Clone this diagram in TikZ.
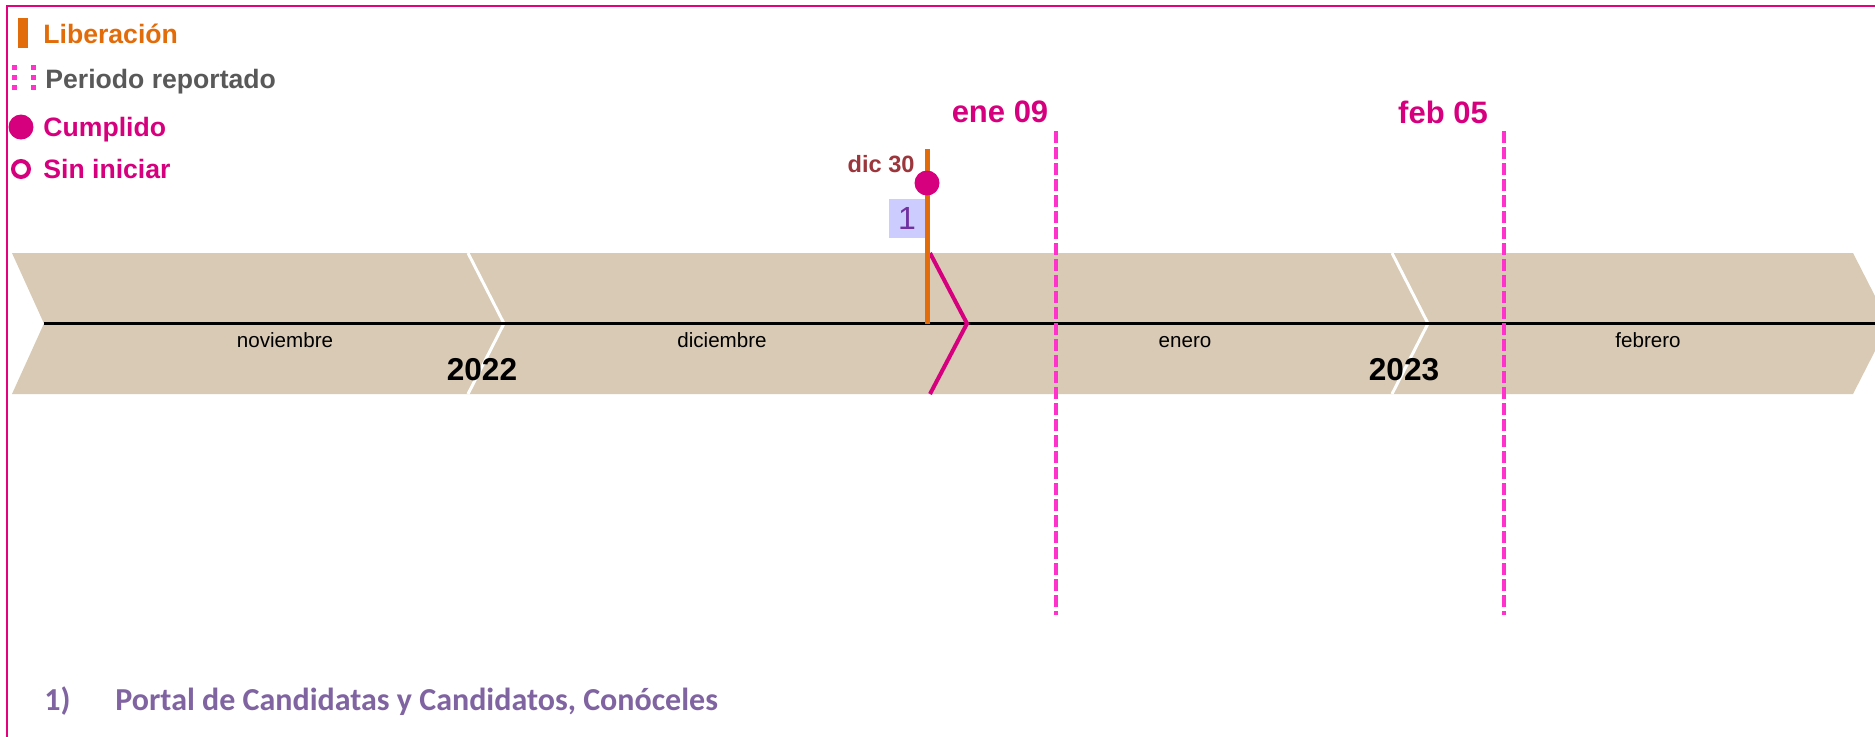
\documentclass[tikz,border=0pt]{standalone}
\usepackage{fontspec}
\setmainfont{Liberation Sans}
\newfontfamily\calibri{Carlito}
\definecolor{tanband}{RGB}{216,202,180}
\definecolor{magc}{RGB}{214,0,127}
\definecolor{pinkd}{RGB}{255,51,204}
\definecolor{orng}{RGB}{227,108,10}
\definecolor{greyt}{RGB}{89,89,89}
\definecolor{framec}{RGB}{229,0,126}
\definecolor{brownr}{RGB}{155,55,60}
\definecolor{boxblue}{RGB}{204,204,255}
\definecolor{purp}{RGB}{112,48,160}
\definecolor{lav}{RGB}{128,100,162}
\tikzset{
  legtext/.style={anchor=base west,inner sep=0pt,font=\fontsize{13.3}{16}\selectfont\bfseries},
  monthlbl/.style={anchor=base,inner sep=0pt,font=\fontsize{10.3}{12}\selectfont},
  yearlbl/.style={anchor=base,inner sep=0pt,font=\fontsize{15.8}{18}\selectfont\bfseries},
  datelbl/.style={anchor=base,inner sep=0pt,text=magc,font=\fontsize{15.5}{18}\selectfont\bfseries},
  period/.style={pinkd,line width=2pt,dash pattern=on 6pt off 2pt},
  sepline/.style={white,line width=1.5pt},
}
\begin{document}
\begin{tikzpicture}[x=0.5pt,y=-0.5pt]
\useasboundingbox (0,0) rectangle (1875,736);
\fill[white] (0,0) rectangle (1875,736);
% frame
\draw[framec,line width=1.3pt] (7,740) -- (7,6) -- (1880,6);
% legend
\fill[orng] (18,18) rectangle (28,48);
\node[legtext,text=orng] (leg-lib) at (43,43) {Liberación};
\draw[pinkd,line width=2.5pt,dash pattern=on 2.5pt off 2.5pt] (14,65) -- (14,91);
\draw[pinkd,line width=2.5pt,dash pattern=on 2.5pt off 2.5pt] (33,65) -- (33,91);
\node[legtext,text=greyt] (leg-per) at (45,88) {Periodo reportado};
\fill[magc] (21,127) circle[radius=12.5];
\node[legtext,text=magc] (leg-cum) at (43,136.5) {Cumplido};
\draw[magc,line width=2pt] (21,169) circle[radius=8];
\node[legtext,text=magc] (leg-sin) at (43,178) {Sin iniciar};
% band
\fill[tanband] (12,253) -- (1853,253) -- (1889,323.5) -- (1853,394) -- (12,394) -- (44,323.5) -- cycle;
\draw[sepline] (468,253) -- (504,323.5) -- (468,394);
\draw[sepline] (1392,253) -- (1428,323.5) -- (1392,394);
\draw[black,line width=1.5pt] (44,323.5) -- (1880,323.5);
\draw[magc,line width=2pt] (930,253) -- (967,323.5) -- (930,394);
% month labels
\node[monthlbl] (m-nov) at (285,347) {noviembre};
\node[monthlbl] (m-dic) at (722,347) {diciembre};
\node[monthlbl] (m-ene) at (1185,347) {enero};
\node[monthlbl] (m-feb) at (1648,347) {febrero};
\node[yearlbl] (y22) at (482,380) {2022};
\node[yearlbl] (y23) at (1404,380) {2023};
% reported period
\coordinate (ene-top) at (1056,131);
\coordinate (ene-bot) at (1056,615);
\coordinate (feb-top) at (1504,131);
\coordinate (feb-bot) at (1504,615);
\draw[period] (ene-top) -- (ene-bot);
\draw[period] (feb-top) -- (feb-bot);
\node[datelbl] (ene09) at (1000,122) {ene 09};
\node[datelbl] (feb05) at (1443,123) {feb 05};
% release
\coordinate (rel-top) at (927,149);
\coordinate (rel-bot) at (927,323.5);
\draw[orng,line width=2.5pt] (rel-top) -- (rel-bot);
\fill[magc] (927,183) circle[radius=12.5];
\node[anchor=base east,inner sep=0pt,text=brownr,font=\fontsize{11.8}{14}\selectfont\bfseries] (dic30) at (915,172) {dic 30};
\node[fill=boxblue,inner sep=0pt,minimum width=18pt,minimum height=19.5pt,text=purp,font=\fontsize{16}{18}\selectfont] (n1) at (907,218.5) {1};
\draw[orng,line width=2.5pt] (927,199) -- (927,238);
% footnote
\node[anchor=base west,inner sep=0pt,text=lav,font=\calibri\fontsize{16}{19}\selectfont\bfseries] (fn-num) at (44,710) {1)};
\node[anchor=base west,inner sep=0pt,text=lav,font=\calibri\fontsize{16}{19}\selectfont\bfseries] (fn-text) at (115,710) {Portal de Candidatas y Candidatos, Conóceles};
\end{tikzpicture}
\end{document}
